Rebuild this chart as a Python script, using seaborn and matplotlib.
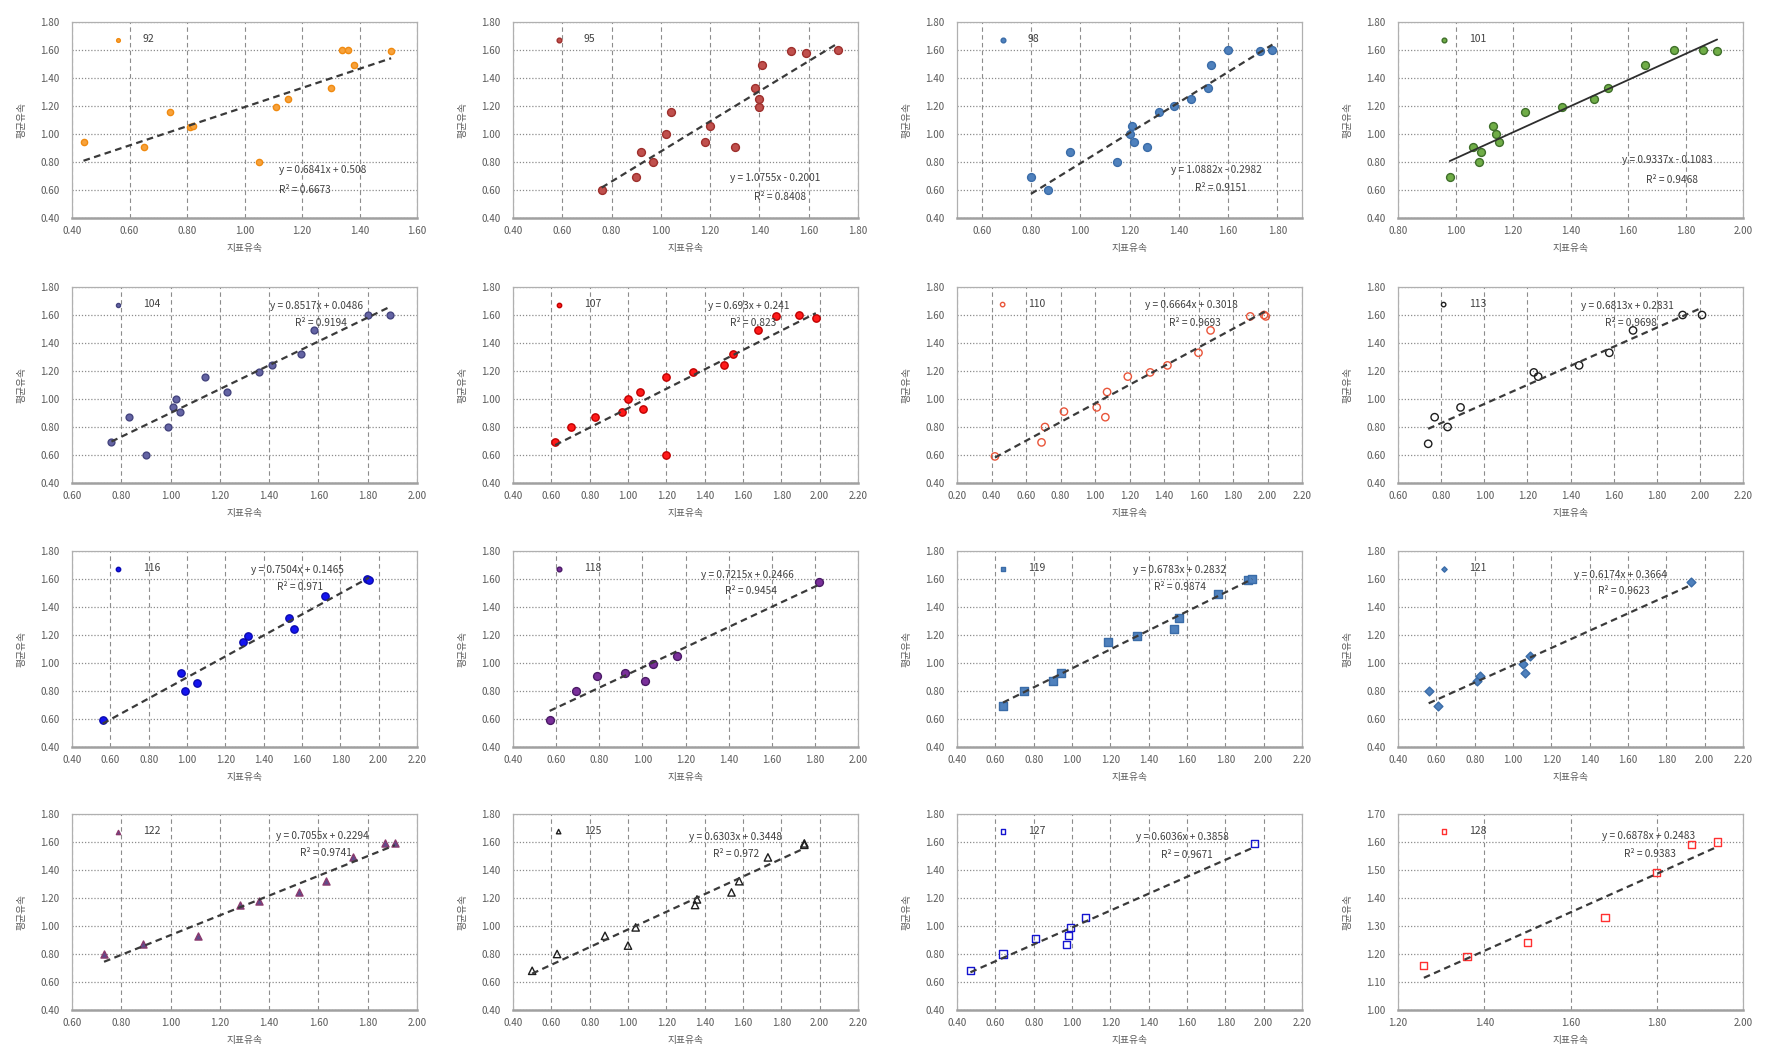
import numpy as np
import pandas as pd
import seaborn as sns
import matplotlib.pyplot as plt
from matplotlib.ticker import FormatStrFormatter, MultipleLocator

# station names (one panel each)
stations = ["92", "95", "98", "101", "104", "107", "110", "113",
            "116", "118", "119", "121", "122", "125", "127", "128"]

# surface velocity (x) and mean velocity (y)
x_92 = [0.44, 0.65, 0.74, 0.81, 0.82, 1.05, 1.11, 1.15, 1.30, 1.34, 1.36, 1.38, 1.51]
y_92 = [0.94, 0.91, 1.16, 1.05, 1.06, 0.80, 1.19, 1.25, 1.33, 1.60, 1.60, 1.49, 1.59]

x_95 = [0.76, 0.90, 0.92, 0.97, 1.02, 1.04, 1.18, 1.20, 1.30, 1.38, 1.40, 1.40, 1.41, 1.53, 1.59, 1.72]
y_95 = [0.60, 0.69, 0.87, 0.80, 1.00, 1.16, 0.94, 1.06, 0.91, 1.33, 1.19, 1.25, 1.49, 1.59, 1.58, 1.60]

x_98 = [0.80, 0.87, 0.96, 1.15, 1.20, 1.21, 1.22, 1.27, 1.32, 1.38, 1.45, 1.52, 1.53, 1.60, 1.73, 1.78]
y_98 = [0.69, 0.60, 0.87, 0.80, 1.00, 1.06, 0.94, 0.91, 1.16, 1.20, 1.25, 1.33, 1.49, 1.60, 1.59, 1.60]

x_101 = [0.98, 1.06, 1.08, 1.09, 1.13, 1.14, 1.15, 1.24, 1.37, 1.48, 1.53, 1.66, 1.76, 1.86, 1.91]
y_101 = [0.69, 0.91, 0.80, 0.87, 1.06, 1.00, 0.94, 1.16, 1.19, 1.25, 1.33, 1.49, 1.60, 1.60, 1.59]

x_104 = [0.76, 0.83, 0.90, 0.99, 1.01, 1.02, 1.04, 1.14, 1.23, 1.36, 1.41, 1.53, 1.58, 1.80, 1.89]
y_104 = [0.69, 0.87, 0.60, 0.80, 0.94, 1.00, 0.91, 1.16, 1.05, 1.19, 1.24, 1.32, 1.49, 1.60, 1.60]

x_107 = [0.62, 0.70, 0.83, 0.97, 1.00, 1.06, 1.08, 1.20, 1.20, 1.34, 1.50, 1.55, 1.68, 1.77, 1.89, 1.98]
y_107 = [0.69, 0.80, 0.87, 0.91, 1.00, 1.05, 0.93, 1.16, 0.60, 1.19, 1.24, 1.32, 1.49, 1.59, 1.60, 1.58]

x_110 = [0.42, 0.69, 0.71, 0.82, 1.01, 1.06, 1.07, 1.19, 1.32, 1.42, 1.60, 1.67, 1.90, 1.98, 1.99]
y_110 = [0.59, 0.69, 0.80, 0.91, 0.94, 0.87, 1.05, 1.16, 1.19, 1.24, 1.33, 1.49, 1.59, 1.60, 1.59]

x_113 = [0.74, 0.77, 0.83, 0.89, 1.23, 1.25, 1.44, 1.58, 1.69, 1.92, 2.01]
y_113 = [0.68, 0.87, 0.80, 0.94, 1.19, 1.16, 1.24, 1.33, 1.49, 1.60, 1.60]

x_116 = [0.56, 0.97, 0.99, 1.05, 1.29, 1.32, 1.53, 1.56, 1.72, 1.94, 1.95]
y_116 = [0.59, 0.93, 0.80, 0.86, 1.15, 1.19, 1.32, 1.24, 1.48, 1.60, 1.59]

x_118 = [0.57, 0.69, 0.79, 0.92, 1.01, 1.05, 1.16, 1.82]
y_118 = [0.59, 0.80, 0.91, 0.93, 0.87, 0.99, 1.05, 1.58]

x_119 = [0.64, 0.75, 0.90, 0.94, 1.19, 1.34, 1.53, 1.56, 1.76, 1.92, 1.94]
y_119 = [0.69, 0.80, 0.87, 0.93, 1.15, 1.19, 1.24, 1.32, 1.49, 1.59, 1.60]

x_121 = [0.56, 0.61, 0.81, 0.83, 1.05, 1.06, 1.09, 1.93]
y_121 = [0.80, 0.69, 0.87, 0.91, 0.99, 0.93, 1.05, 1.58]

x_122 = [0.73, 0.89, 1.11, 1.28, 1.36, 1.52, 1.63, 1.74, 1.87, 1.91]
y_122 = [0.80, 0.87, 0.93, 1.15, 1.18, 1.24, 1.32, 1.49, 1.59, 1.59]

x_125 = [0.50, 0.63, 0.88, 1.00, 1.04, 1.35, 1.36, 1.54, 1.58, 1.73, 1.92, 1.92]
y_125 = [0.68, 0.80, 0.93, 0.86, 0.99, 1.15, 1.19, 1.24, 1.32, 1.49, 1.58, 1.59]

x_127 = [0.47, 0.64, 0.81, 0.97, 0.98, 0.99, 1.07, 1.95]
y_127 = [0.68, 0.80, 0.91, 0.87, 0.93, 0.99, 1.06, 1.59]

x_128 = [1.26, 1.36, 1.50, 1.68, 1.80, 1.88, 1.94]
y_128 = [1.16, 1.19, 1.24, 1.33, 1.49, 1.59, 1.60]

xs = [x_92, x_95, x_98, x_101, x_104, x_107, x_110, x_113,
      x_116, x_118, x_119, x_121, x_122, x_125, x_127, x_128]
ys = [y_92, y_95, y_98, y_101, y_104, y_107, y_110, y_113,
      y_116, y_118, y_119, y_121, y_122, y_125, y_127, y_128]

# trendline coefficients and labels as printed on the chart
slopes = [0.6841, 1.0755, 1.0882, 0.9337, 0.8517, 0.693, 0.6664, 0.6813,
          0.7504, 0.7215, 0.6783, 0.6174, 0.7055, 0.6303, 0.6036, 0.6878]
intercepts = [0.508, -0.2001, -0.2982, -0.1083, 0.0486, 0.241, 0.3018, 0.2831,
              0.1465, 0.2466, 0.2832, 0.3664, 0.2294, 0.3448, 0.3858, 0.2483]
r2_labels = ["0.6673", "0.8408", "0.9151", "0.9468", "0.9194", "0.823", "0.9693", "0.9698",
             "0.971", "0.9454", "0.9874", "0.9623", "0.9741", "0.972", "0.9671", "0.9383"]

# axis ranges
x_lims = [(0.4, 1.6), (0.4, 1.8), (0.5, 1.9), (0.8, 2.0), (0.6, 2.0), (0.4, 2.2), (0.2, 2.2), (0.6, 2.2),
          (0.4, 2.2), (0.4, 2.0), (0.4, 2.2), (0.4, 2.2), (0.6, 2.0), (0.4, 2.2), (0.4, 2.2), (1.2, 2.0)]
y_lims = [(0.4, 1.8)] * 15 + [(1.0, 1.7)]
y_steps = [0.2] * 15 + [0.1]

# marker styles: (marker, face, edge, size)
styles = [
    ("o", "#F7A23C", "#F08A10", 20),
    ("o", "#C0504D", "#9E2F2C", 32),
    ("o", "#4F81BD", "#3A6CA8", 32),
    ("o", "#70AD47", "#3F6F2A", 32),
    ("o", "#6464A4", "#45457F", 24),
    ("o", "#FF1A1A", "#C00000", 28),
    ("o", "none", "#E9553A", 28),
    ("o", "none", "#1E1E1E", 28),
    ("o", "#1414F0", "#0A0AB0", 28),
    ("o", "#7A2F9A", "#4A1A66", 32),
    ("s", "#4F81BD", "#3A6CA8", 26),
    ("D", "#4F81BD", "#3A6CA8", 20),
    ("^", "#5F4B8B", "#8B3A6E", 26),
    ("^", "none", "#1E1E1E", 28),
    ("s", "none", "#1414D0", 26),
    ("s", "none", "#FF3030", 26),
]

# equation text positions (axes fraction): line1 x, line1 y, line2 x, line2 y
eq_pos = [
    (0.60, 0.23, 0.60, 0.13), (0.63, 0.19, 0.70, 0.09), (0.62, 0.23, 0.69, 0.14), (0.65, 0.28, 0.72, 0.18),
    (0.575, 0.89, 0.645, 0.80), (0.565, 0.89, 0.63, 0.80), (0.545, 0.895, 0.615, 0.80), (0.53, 0.89, 0.60, 0.80),
    (0.52, 0.89, 0.595, 0.80), (0.545, 0.86, 0.615, 0.78), (0.51, 0.89, 0.57, 0.80), (0.51, 0.86, 0.58, 0.78),
    (0.59, 0.87, 0.66, 0.785), (0.51, 0.865, 0.58, 0.78), (0.52, 0.865, 0.59, 0.775), (0.59, 0.87, 0.655, 0.78),
]

W, H = 1770, 1055
col_left = [72, 513, 957, 1398]
row_top = [22, 287, 551, 814]
ax_w, ax_h = 345, 196

sns.set_theme(style="white")
plt.rcParams['font.family'] = ['Noto Sans CJK KR', 'DejaVu Sans']
plt.rcParams['axes.unicode_minus'] = False

fig = plt.figure(figsize=(W / 100, H / 100), dpi=100)
fig.patch.set_facecolor("white")

text_color = "#595959"

for i, st in enumerate(stations):
    r, c = divmod(i, 4)
    ax = fig.add_axes([col_left[c] / W, 1 - (row_top[r] + ax_h) / H, ax_w / W, ax_h / H])
    ax.set_axisbelow(True)

    df = pd.DataFrame({"x": xs[i], "y": ys[i]})
    mk, fc, ec, sz = styles[i]
    sns.scatterplot(data=df, x="x", y="y", ax=ax, marker=mk, s=sz, color=ec,
                    facecolor=fc, edgecolor=ec, linewidth=1.0, label=st, zorder=3)

    # trendline across the data range
    xx = np.array([min(xs[i]), max(xs[i])])
    yy = slopes[i] * xx + intercepts[i]
    if st == "101":
        ax.plot(xx, yy, color="#2E2E2E", lw=1.3, zorder=4)
    else:
        ax.plot(xx, yy, color="#3A3A3A", lw=1.6, ls=(0, (3, 2)), zorder=4)

    sign = "+" if intercepts[i] >= 0 else "-"
    eq = f"y = {slopes[i]}x {sign} {abs(intercepts[i])}"
    px1, py1, px2, py2 = eq_pos[i]
    ax.text(px1, py1, eq, transform=ax.transAxes, fontsize=7.3, color="#404040", zorder=5)
    ax.text(px2, py2, "R² = " + r2_labels[i], transform=ax.transAxes, fontsize=7.3, color="#404040", zorder=5)

    ax.set_xlim(*x_lims[i])
    ax.set_ylim(*y_lims[i])
    ax.xaxis.set_major_locator(MultipleLocator(0.2))
    ax.yaxis.set_major_locator(MultipleLocator(y_steps[i]))
    ax.xaxis.set_major_formatter(FormatStrFormatter("%.2f"))
    ax.yaxis.set_major_formatter(FormatStrFormatter("%.2f"))
    ax.tick_params(axis="both", length=0, labelsize=7, labelcolor=text_color)
    ax.tick_params(axis="y", pad=9)
    ax.tick_params(axis="x", pad=6)

    ax.xaxis.grid(True, color="#8C8C8C", lw=0.8, ls=(0, (4, 3)))
    ax.yaxis.grid(True, color="#8C8C8C", lw=0.9, ls=(0, (1, 1.5)))

    for side in ["top", "right", "left"]:
        ax.spines[side].set_color("#B0B0B0")
        ax.spines[side].set_linewidth(0.9)
    ax.spines["bottom"].set_color("#A0A0A0")
    ax.spines["bottom"].set_linewidth(1.8)

    ax.set_xlabel("지표유속", fontsize=7, color=text_color, labelpad=5)
    ax.set_ylabel("평균유속", fontsize=7, color=text_color, labelpad=10)

    leg = ax.legend(loc="upper left", bbox_to_anchor=(0.09, 0.985), frameon=False,
                    fontsize=7.5, markerscale=0.6, handlelength=1.0, handletextpad=1.9,
                    borderaxespad=0.5)
    for t in leg.get_texts():
        t.set_color("#404040")

fig.savefig("out.png", dpi=100, facecolor="white")
